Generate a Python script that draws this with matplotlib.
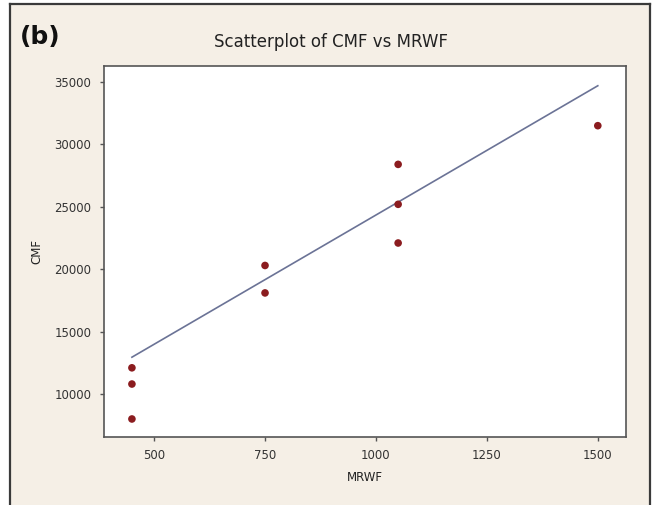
import numpy as np
import matplotlib
matplotlib.use('Agg')
import matplotlib.pyplot as plt
from matplotlib.patches import Rectangle
from matplotlib.lines import Line2D

plt.rcParams['font.family'] = 'DejaVu Sans'

# data
mrwf = [450, 450, 450, 750, 750, 1050, 1050, 1050, 1500]
cmf = [12100, 10800, 8000, 20300, 18100, 28400, 25200, 22100, 31500]
fit_x = [450, 1500]
fit_y = [12950, 34700]
x_ticks = [500, 750, 1000, 1250, 1500]
y_ticks = [10000, 15000, 20000, 25000, 30000, 35000]

bg = '#f5efe6'
W, H = 658, 505
fig = plt.figure(figsize=(6.58, 5.05), dpi=100, facecolor='white')

# beige panel with dark frame on left, top and right (screenshot look)
fig.add_artist(Rectangle((10 / W, 0), 640 / W, 1 - 4 / H, transform=fig.transFigure,
                         facecolor=bg, edgecolor='none', zorder=-5))
for xs, ys in [([10 / W, 10 / W], [0, 1 - 4 / H]),
               ([10 / W, 650 / W], [1 - 4 / H, 1 - 4 / H]),
               ([650 / W, 650 / W], [0, 1 - 4 / H])]:
    fig.add_artist(Line2D(xs, ys, transform=fig.transFigure, color='#3a3a3a', lw=1.6,
                          zorder=-4))

ax = fig.add_axes([0.158, 0.135, 0.793, 0.734])
ax.set_facecolor('white')

ax.plot(fit_x, fit_y, color='#6b7396', lw=1.2, zorder=2)
ax.scatter(mrwf, cmf, s=30, color='#8b1c1f', edgecolors='none', zorder=3)

ax.set_xlim(387, 1563)
ax.set_ylim(6570, 36270)
ax.set_xticks(x_ticks)
ax.set_yticks(y_ticks)
ax.tick_params(direction='out', length=3, width=1, color='#555555',
               labelsize=8.5, labelcolor='#333333', pad=6)
for s in ax.spines.values():
    s.set_color('#555555')
    s.set_linewidth(1.2)

ax.set_xlabel('MRWF', fontsize=8.5, color='#222222', labelpad=6)
ax.set_ylabel('CMF', fontsize=8.5, color='#222222', labelpad=8)
fig.text(0.503, 0.917, 'Scatterplot of CMF vs MRWF', ha='center', va='center',
         fontsize=12, color='#222222')
fig.text(0.03, 0.926, '(b)', ha='left', va='center', fontsize=18,
         fontweight='bold', color='#111111')

fig.savefig('out.png', dpi=100, facecolor='white')
